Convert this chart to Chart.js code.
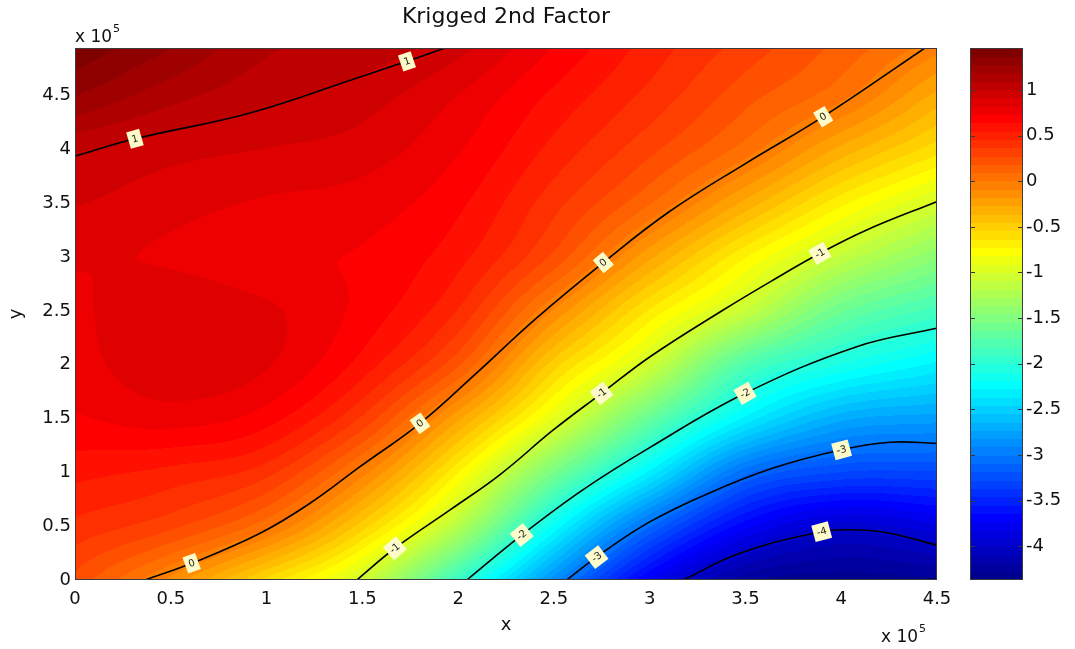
<!DOCTYPE html>
<html>
<head>
<meta charset="utf-8">
<title>Krigged 2nd Factor</title>
<script src="https://cdn.jsdelivr.net/npm/chart.js@4.4.1/dist/chart.umd.min.js"></script>
<style>
  html, body { margin: 0; padding: 0; background: #fff; }
  #factorChart { display: block; }
</style>
</head>
<body>
<canvas id="factorChart" width="1075" height="649"></canvas>
<script>
// Kriged 2nd factor sampled on a regular grid (x, y in units of 1e5)
const gridX = [0, 0.5, 1, 1.5, 2, 2.5, 3, 3.5, 4, 4.5];
const gridY = [0, 0.5, 1, 1.5, 2, 2.5, 3, 3.5, 4, 4.5, 5];
// one row per gridY value, one column per gridX value
const factorGrid = [
  [0.25,  -0.12, -0.57, -1.05, -1.92, -2.87, -3.75, -4.25, -4.33, -4.30],
  [0.43,   0.30,  0.03, -0.50, -1.20, -2.20, -3.08, -3.70, -3.95, -3.85],
  [0.58,   0.52,  0.40, -0.05, -0.72, -1.55, -2.30, -3.06, -3.28, -3.29],
  [0.72,   0.77,  0.68,  0.35, -0.25, -0.92, -1.65, -2.30, -2.70, -2.78],
  [0.78,   0.89,  0.83,  0.60,  0.20, -0.50, -1.05, -1.78, -2.10, -2.30],
  [0.80,   0.90,  0.84,  0.70,  0.45, -0.10, -0.65, -1.10, -1.62, -1.86],
  [0.835,  0.81,  0.74,  0.72,  0.58,  0.25, -0.25, -0.72, -1.12, -1.44],
  [0.92,   0.86,  0.81,  0.78,  0.66,  0.40,  0.10, -0.30, -0.70, -1.02],
  [1.03,   0.95,  0.91,  0.87,  0.74,  0.52,  0.30,  0.05, -0.30, -0.60],
  [1.28,   1.13,  1.03,  0.96,  0.82,  0.62,  0.43,  0.22,  0.03, -0.30],
  [1.46,   1.30,  1.12,  1.08,  0.96,  0.74,  0.52,  0.34,  0.17, -0.02]
];

const xTicks = [0, 0.5, 1, 1.5, 2, 2.5, 3, 3.5, 4, 4.5];
const yTicks = [0, 0.5, 1, 1.5, 2, 2.5, 3, 3.5, 4, 4.5];
const yMax = 4.944;
const colorTicks = [1, 0.5, 0, -0.5, -1, -1.5, -2, -2.5, -3, -3.5, -4];
const colorRange = [-4.37, 1.46];

// contour lines as [x, y] points
const contour1 = [[0, 3.94], [0.313, 4.10], [0.914, 4.34], [1.488, 4.675], [1.733, 4.82], [1.93, 4.944]];
const contour0 = [[0.365, 0], [0.609, 0.155], [0.966, 0.434], [1.227, 0.713], [1.488, 1.053], [1.801, 1.456],
  [2.1, 1.93], [2.4, 2.42], [2.758, 2.95], [3.1, 3.42], [3.5, 3.87], [3.906, 4.306], [4.437, 4.944]];
const contourM1 = [[1.471, 0], [1.670, 0.295], [1.958, 0.651], [2.219, 0.980], [2.497, 1.394], [2.749, 1.735],
  [3.002, 2.075], [3.384, 2.509], [3.645, 2.788], [3.889, 3.036], [4.133, 3.253], [4.498, 3.516]];
const contourM2 = [[2.045, 0], [2.332, 0.418], [2.653, 0.84], [3.0, 1.23], [3.498, 1.735], [4.081, 2.168], [4.498, 2.339]];
const contourM3 = [[2.567, 0], [2.75, 0.25], [3.0, 0.54], [3.3, 0.80], [3.645, 1.04], [4.002, 1.21],
  [4.254, 1.28], [4.498, 1.27]];
const contourM4 = [[3.176, 0], [3.471, 0.248], [3.898, 0.449], [4.081, 0.465], [4.254, 0.435], [4.498, 0.325]];

const contourLevels = [1, 0, -1, -2, -3, -4];
const contourLines = [contour1, contour0, contourM1, contourM2, contourM3, contourM4];
// x positions of the inline level labels on each line
const labelSpots = [
  [0.313, 1.733],
  [0.609, 1.801, 2.758, 3.906],
  [1.670, 2.749, 3.889],
  [2.332, 3.498],
  [2.723, 4.002],
  [3.898]
];

const fontFamily = "'DejaVu Sans', Verdana, sans-serif";
const tickFont = { family: fontFamily, size: 18 };
const textColor = '#111';

// MATLAB-style jet(64)
const jet64 = (() => {
  const m = 64, n = 16;
  const u = [];
  for (let i = 1; i <= n; i++) u.push(i / n);
  for (let i = 1; i < n; i++) u.push(1);
  for (let i = n; i >= 1; i--) u.push(i / n);
  const pick = k => (k >= 1 && k <= u.length ? u[k - 1] : 0);
  const out = [];
  for (let k = 1; k <= m; k++) {
    out.push([pick(k - 24), pick(k - 8), pick(k + 8)].map(c => Math.round(c * 255)));
  }
  return out;
})();

function colorIndex(v) {
  const t = (v - colorRange[0]) / (colorRange[1] - colorRange[0]);
  return Math.max(0, Math.min(63, Math.floor(t * 64)));
}

function gridValue(i, j) {
  const rows = factorGrid.length, cols = factorGrid[0].length;
  if (i < 0) return 2 * gridValue(0, j) - gridValue(1, j);
  if (i >= rows) return 2 * gridValue(rows - 1, j) - gridValue(rows - 2, j);
  if (j < 0) return 2 * gridValue(i, 0) - gridValue(i, 1);
  if (j >= cols) return 2 * gridValue(i, cols - 1) - gridValue(i, cols - 2);
  return factorGrid[i][j];
}

function cubic(p0, p1, p2, p3, t) {
  return p1 + 0.5 * t * (p2 - p0 + t * (2 * p0 - 5 * p1 + 4 * p2 - p3 + t * (3 * (p1 - p2) + p3 - p0)));
}

// smooth (Catmull-Rom) lookup of the gridded surface
function sampleSurface(xv, yv) {
  const fx = (xv - gridX[0]) / (gridX[1] - gridX[0]);
  const fy = (yv - gridY[0]) / (gridY[1] - gridY[0]);
  const j = Math.min(Math.floor(fx), gridX.length - 2);
  const i = Math.min(Math.floor(fy), gridY.length - 2);
  const tx = fx - j, ty = fy - i;
  const r = [];
  for (let di = -1; di <= 2; di++) {
    r.push(cubic(gridValue(i + di, j - 1), gridValue(i + di, j), gridValue(i + di, j + 1), gridValue(i + di, j + 2), tx));
  }
  return cubic(r[0], r[1], r[2], r[3], ty);
}

// keep the axis boxes at a fixed size, without extra room for edge labels
const fixSize = (w, h) => s => {
  if (w !== null) s.width = w;
  if (h !== null) s.height = h;
  s.paddingTop = s.paddingBottom = s.paddingLeft = s.paddingRight = 0;
};

const surfacePlugin = {
  id: 'surface',
  beforeDatasetsDraw(chart) {
    const { ctx, chartArea: a, scales } = chart;
    const w = Math.round(a.right - a.left), h = Math.round(a.bottom - a.top);
    const off = document.createElement('canvas');
    off.width = w; off.height = h;
    const octx = off.getContext('2d');
    const img = octx.createImageData(w, h);
    for (let py = 0; py < h; py++) {
      const yv = scales.y.getValueForPixel(a.top + py + 0.5);
      for (let px = 0; px < w; px++) {
        const xv = scales.x.getValueForPixel(a.left + px + 0.5);
        const c = jet64[colorIndex(sampleSurface(xv, yv))];
        const o = (py * w + px) * 4;
        img.data[o] = c[0]; img.data[o + 1] = c[1]; img.data[o + 2] = c[2]; img.data[o + 3] = 255;
      }
    }
    octx.putImageData(img, 0, 0);
    ctx.drawImage(off, a.left, a.top);
  },
  afterDatasetsDraw(chart) {
    const { ctx, chartArea: a, scales } = chart;
    // inline contour labels
    ctx.save();
    ctx.font = '10px ' + fontFamily;
    ctx.textAlign = 'center';
    ctx.textBaseline = 'middle';
    contourLines.forEach((line, li) => {
      const text = String(contourLevels[li]);
      labelSpots[li].forEach(lx => {
        let k = 0;
        while (k < line.length - 2 && line[k + 1][0] < lx) k++;
        const p = line[k], q = line[k + 1];
        const t = (lx - p[0]) / (q[0] - p[0]);
        const ly = p[1] + t * (q[1] - p[1]);
        const cx = scales.x.getPixelForValue(lx), cy = scales.y.getPixelForValue(ly);
        const ang = Math.atan2(scales.y.getPixelForValue(q[1]) - scales.y.getPixelForValue(p[1]),
          scales.x.getPixelForValue(q[0]) - scales.x.getPixelForValue(p[0]));
        const bw = ctx.measureText(text).width + 7, bh = 17;
        ctx.save();
        ctx.translate(cx, cy);
        ctx.rotate(ang);
        ctx.fillStyle = '#fdfbc9';
        ctx.fillRect(-bw / 2, -bh / 2, bw, bh);
        ctx.fillStyle = '#1b1b1b';
        ctx.fillText(text, 0, 0.5);
        ctx.restore();
      });
    });
    ctx.restore();
    // axes box
    ctx.save();
    ctx.strokeStyle = '#3a3a3a';
    ctx.lineWidth = 1;
    ctx.strokeRect(a.left + 0.5, a.top + 0.5, a.right - a.left - 1, a.bottom - a.top - 1);
    ctx.restore();
  },
  afterDraw(chart) {
    const { ctx, chartArea: a, scales } = chart;
    const cb = scales.cb;
    const barLeft = a.right + 33, barRight = a.right + 86;
    ctx.save();
    const step = (colorRange[1] - colorRange[0]) / 64;
    for (let k = 0; k < 64; k++) {
      const y0 = cb.getPixelForValue(colorRange[0] + k * step);
      const y1 = cb.getPixelForValue(colorRange[0] + (k + 1) * step);
      const c = jet64[k];
      ctx.fillStyle = `rgb(${c[0]},${c[1]},${c[2]})`;
      ctx.fillRect(barLeft, Math.floor(y1), barRight - barLeft, Math.ceil(y0) - Math.floor(y1));
    }
    ctx.strokeStyle = '#3a3a3a';
    ctx.lineWidth = 1;
    colorTicks.forEach(v => {
      const y = Math.round(cb.getPixelForValue(v)) + 0.5;
      ctx.beginPath();
      ctx.moveTo(barLeft, y); ctx.lineTo(barLeft + 5, y);
      ctx.moveTo(barRight - 5, y); ctx.lineTo(barRight, y);
      ctx.stroke();
    });
    ctx.strokeRect(barLeft + 0.5, a.top + 0.5, barRight - barLeft - 1, a.bottom - a.top - 1);

    // axis exponent notes
    ctx.fillStyle = textColor;
    ctx.textBaseline = 'alphabetic';
    ctx.textAlign = 'left';
    const exponent = (x, y) => {
      ctx.font = '17px ' + fontFamily;
      ctx.fillText('x 10', x, y);
      const w = ctx.measureText('x 10').width;
      ctx.font = '11px ' + fontFamily;
      ctx.fillText('5', x + w + 1, y - 10);
    };
    exponent(a.left, a.top - 6);
    exponent(a.right - 56, a.bottom + 62);
    ctx.restore();
  }
};

const ctx = document.getElementById('factorChart').getContext('2d');
const factorChart = new Chart(ctx, {
  type: 'scatter',
  data: {
    datasets: contourLines.map((line, i) => ({
      label: String(contourLevels[i]),
      data: line.map(([x, y]) => ({ x, y })),
      showLine: true,
      borderColor: '#000',
      borderWidth: 1.6,
      pointRadius: 0,
      tension: 0.4,
      fill: false
    }))
  },
  options: {
    responsive: false,
    animation: false,
    events: [],
    layout: { padding: 0 },
    plugins: {
      legend: { display: false },
      tooltip: { enabled: false },
      title: {
        display: true,
        fullSize: false,
        text: 'Krigged 2nd Factor',
        color: textColor,
        font: { family: fontFamily, size: 22, weight: 'normal', lineHeight: 1.2 },
        padding: { top: 4, bottom: 17.6 }
      }
    },
    scales: {
      x: {
        type: 'linear',
        min: 0,
        max: 4.5,
        afterBuildTicks: s => { s.ticks = xTicks.map(v => ({ value: v })); },
        afterFit: fixSize(null, 69),
        grid: { display: false, drawTicks: false },
        border: { display: false },
        ticks: { color: textColor, font: tickFont, padding: 9, maxRotation: 0, autoSkip: false, callback: v => String(v) },
        title: { display: true, text: 'x', color: textColor, font: tickFont, padding: { top: 0, bottom: 13 } }
      },
      y: {
        type: 'linear',
        min: 0,
        max: yMax,
        afterBuildTicks: s => { s.ticks = yTicks.map(v => ({ value: v })); },
        afterFit: fixSize(75, null),
        grid: { display: false, drawTicks: false },
        border: { display: false },
        ticks: { color: textColor, font: tickFont, padding: 4, autoSkip: false, callback: v => String(v) },
        title: { display: true, text: 'y', color: textColor, font: tickFont, padding: { top: 6, bottom: 0 } }
      },
      cb: {
        type: 'linear',
        position: 'right',
        min: colorRange[0],
        max: colorRange[1],
        afterBuildTicks: s => { s.ticks = colorTicks.map(v => ({ value: v })); },
        afterFit: fixSize(138, null),
        grid: { display: false, drawTicks: false },
        border: { display: false },
        ticks: { color: textColor, font: tickFont, padding: 89, autoSkip: false, callback: v => String(v) }
      }
    }
  },
  plugins: [surfacePlugin]
});
</script>
</body>
</html>
